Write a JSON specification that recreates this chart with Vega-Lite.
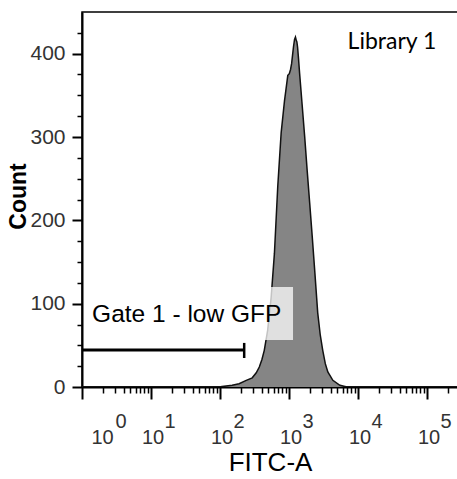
{
  "$schema": "https://vega.github.io/schema/vega-lite/v6.json",
  "width": 376,
  "height": 375,
  "autosize": "none",
  "padding": {"left": 82, "top": 12, "right": 0, "bottom": 92},
  "background": "white",
  "config": {"view": {"stroke": "black", "strokeWidth": 1.5}, "font": "Liberation Sans"},
  "datasets": {
    "hist": [
      {"fitc": 1, "count": 0}, {"fitc": 97, "count": 0}, {"fitc": 107, "count": 0.5},
      {"fitc": 150, "count": 2}, {"fitc": 189, "count": 4}, {"fitc": 240, "count": 8},
      {"fitc": 293, "count": 11}, {"fitc": 335, "count": 17}, {"fitc": 371, "count": 24},
      {"fitc": 405, "count": 33}, {"fitc": 438, "count": 44}, {"fitc": 490, "count": 68},
      {"fitc": 550, "count": 107}, {"fitc": 614, "count": 160}, {"fitc": 686, "count": 240},
      {"fitc": 769, "count": 305}, {"fitc": 859, "count": 343}, {"fitc": 960, "count": 374},
      {"fitc": 1010, "count": 376}, {"fitc": 1052, "count": 381}, {"fitc": 1090, "count": 388},
      {"fitc": 1124, "count": 398}, {"fitc": 1160, "count": 408}, {"fitc": 1202, "count": 417},
      {"fitc": 1240, "count": 420}, {"fitc": 1273, "count": 416}, {"fitc": 1300, "count": 414},
      {"fitc": 1330, "count": 408}, {"fitc": 1370, "count": 395}, {"fitc": 1422, "count": 377},
      {"fitc": 1548, "count": 339}, {"fitc": 1684, "count": 301}, {"fitc": 1832, "count": 260},
      {"fitc": 1992, "count": 221}, {"fitc": 2167, "count": 181}, {"fitc": 2356, "count": 140},
      {"fitc": 2606, "count": 89}, {"fitc": 2830, "count": 63}, {"fitc": 3080, "count": 44},
      {"fitc": 3356, "count": 28}, {"fitc": 3650, "count": 18}, {"fitc": 4318, "count": 8},
      {"fitc": 5460, "count": 2}, {"fitc": 6900, "count": 0}, {"fitc": 281000, "count": 0}
    ],
    "gate": [{"x1": 1, "x2": 224, "y": 44.4}],
    "gateEnd": [{"x": 224, "y1": 34.8, "y2": 52.9}],
    "box": [{"x1": 1.2, "x2": 1143, "y1": 56.5, "y2": 120}],
    "gateLabel": [{"x": 1.4, "y": 78, "text": "Gate 1 - low GFP"}],
    "libLabel": [{"x": 31000, "y": 406, "text": "Library 1"}]
  },
  "layer": [
    {
      "data": {"name": "hist"},
      "mark": {"type": "area", "color": "#858585", "clip": true},
      "encoding": {
        "x": {
          "field": "fitc", "type": "quantitative",
          "scale": {"type": "log", "domain": [1, 281000], "nice": false},
          "axis": {
            "orient": "bottom",
            "values": [1, 10, 100, 1000, 10000, 100000],
            "labelExpr": "'10'",
            "tickSize": 12, "tickWidth": 2, "tickColor": "black",
            "domainColor": "black", "domainWidth": 2,
            "grid": false,
            "labelFont": "Liberation Sans",
            "labelFontSize": 20, "labelColor": "#333",
            "labelBaseline": "alphabetic", "labelPadding": 44,
            "labelOffset": {"condition": {"test": "datum.value < 2", "value": 20}, "value": 1.5},
            "labelFlush": false, "labelOverlap": false, "labelBound": false,
            "title": "FITC-A", "titleFontSize": 26, "titleFontWeight": "normal",
            "titleColor": "black", "titleBaseline": "alphabetic", "titleY": 83, "titleX": 188
          }
        },
        "y": {
          "field": "count", "type": "quantitative",
          "scale": {"domain": [0, 450], "nice": false},
          "axis": {
            "orient": "left",
            "values": [0, 100, 200, 300, 400],
            "tickSize": 10, "tickWidth": 2, "tickColor": "black",
            "domainColor": "black", "domainWidth": 2,
            "grid": false,
            "labelFont": "Liberation Sans",
            "labelFontSize": 21, "labelColor": "#333", "labelPadding": 7,
            "title": "Count", "titleFontSize": 23, "titleFontWeight": "bold",
            "titleColor": "black", "titleAngle": 270, "titleBaseline": "alphabetic",
            "titleAlign": "center", "titleX": -57, "titleY": 184
          }
        }
      }
    },
    {
      "data": {"name": "hist"},
      "mark": {"type": "line", "color": "#111", "strokeWidth": 1.5, "clip": true},
      "encoding": {
        "x": {
          "field": "fitc", "type": "quantitative",
          "scale": {"type": "log", "domain": [1, 281000], "nice": false},
          "axis": {
            "orient": "bottom",
            "values": [2,3,4,5,6,7,8,9,20,30,40,50,60,70,80,90,200,300,400,500,600,700,800,900,2000,3000,4000,5000,6000,7000,8000,9000,20000,30000,40000,50000,60000,70000,80000,90000,200000],
            "tickSize": 6, "tickWidth": 1.5, "tickColor": "black",
            "domain": false, "labels": false, "grid": false, "title": null
          }
        },
        "y": {
          "field": "count", "type": "quantitative",
          "scale": {"domain": [0, 450], "nice": false},
          "axis": {
            "orient": "left",
            "values": [25, 50, 75, 125, 150, 175, 225, 250, 275, 325, 350, 375, 425],
            "tickSize": 5, "tickWidth": 1.5, "tickColor": "black",
            "domain": false, "labels": false, "grid": false, "title": null
          }
        }
      }
    },
    {
      "data": {"name": "gate"},
      "mark": {"type": "rule", "color": "black", "strokeWidth": 3},
      "encoding": {
        "x": {
          "field": "x1", "type": "quantitative",
          "axis": {
            "orient": "bottom",
            "values": [1, 10, 100, 1000, 10000, 100000],
            "labelExpr": "'' + round(log(datum.value) / LN10)",
            "tickSize": 12, "tickOpacity": 0,
            "domain": false, "grid": false,
            "labelFont": "Liberation Sans",
            "labelFontSize": 20, "labelColor": "#333",
            "labelBaseline": "alphabetic", "labelPadding": 28, "labelAlign": "left",
            "labelOffset": {"condition": {"test": "datum.value < 2", "value": 33}, "value": 13},
            "labelFlush": false, "labelOverlap": false, "labelBound": false,
            "title": null
          }
        },
        "x2": {"field": "x2"},
        "y": {"field": "y", "type": "quantitative", "axis": null}
      }
    },
    {
      "data": {"name": "gateEnd"},
      "mark": {"type": "rule", "color": "black", "strokeWidth": 2.5},
      "encoding": {
        "x": {"field": "x", "type": "quantitative", "axis": null},
        "y": {"field": "y1", "type": "quantitative", "axis": null},
        "y2": {"field": "y2"}
      }
    },
    {
      "data": {"name": "box"},
      "mark": {"type": "rect", "color": "white", "opacity": 0.75},
      "encoding": {
        "x": {"field": "x1", "type": "quantitative", "axis": null},
        "x2": {"field": "x2"},
        "y": {"field": "y1", "type": "quantitative", "axis": null},
        "y2": {"field": "y2"}
      }
    },
    {
      "data": {"name": "gateLabel"},
      "mark": {"type": "text", "align": "left", "baseline": "alphabetic", "fontSize": 24.5, "font": "Liberation Sans", "color": "black"},
      "encoding": {
        "x": {"field": "x", "type": "quantitative", "axis": null},
        "y": {"field": "y", "type": "quantitative", "axis": null},
        "text": {"field": "text"}
      }
    },
    {
      "data": {"name": "libLabel"},
      "mark": {"type": "text", "align": "center", "baseline": "alphabetic", "fontSize": 23, "font": "Lato", "color": "black"},
      "encoding": {
        "x": {"field": "x", "type": "quantitative", "axis": null},
        "y": {"field": "y", "type": "quantitative", "axis": null},
        "text": {"field": "text"}
      }
    }
  ],
  "resolve": {"axis": {"x": "independent", "y": "independent"}}
}
